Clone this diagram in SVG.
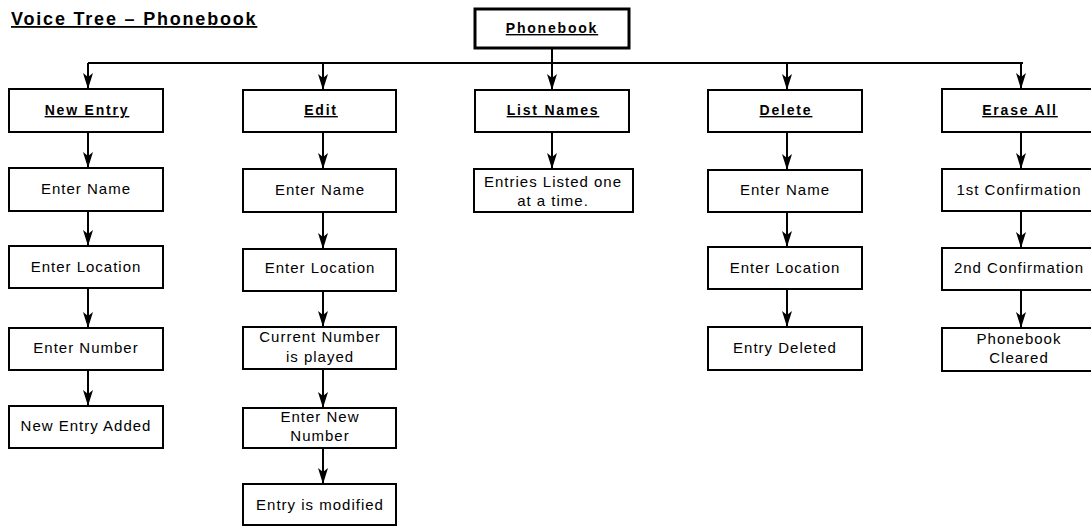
<svg xmlns="http://www.w3.org/2000/svg" width="1091" height="527" viewBox="0 0 1091 527">
<style>
.box{fill:#fff;stroke:#000;stroke-width:2}
.top{fill:#fff;stroke:#000;stroke-width:3}
.t{font-family:"Liberation Sans",Arial,sans-serif;font-size:15px;letter-spacing:1px;text-anchor:middle;fill:#000}
.h{font-family:"Liberation Sans",Arial,sans-serif;font-size:14px;font-weight:bold;letter-spacing:1.8px;text-anchor:middle;fill:#000;text-decoration:underline}
.title{font-family:"Liberation Sans",Arial,sans-serif;font-size:18px;font-weight:bold;letter-spacing:1.8px;fill:#000;text-decoration:underline}
.c{stroke:#000;stroke-width:2;fill:none}
.a{stroke:#000;stroke-width:2;fill:none;marker-end:url(#arr)}
</style>
<defs>
<marker id="arr" markerUnits="userSpaceOnUse" markerWidth="18" markerHeight="12" viewBox="0 -6 18 12" refX="16" refY="0" orient="auto">
<path d="M0,-5 L16,0 L0,5 L4,0 z" fill="#000"/>
</marker>
</defs>
<text class="title" x="11" y="25">Voice Tree – Phonebook</text>

<g id="connectors">
<line class="c" x1="88" y1="63" x2="1023" y2="63"/>
<line class="a" x1="552" y1="48" x2="552" y2="90"/>
<line class="a" x1="88" y1="63" x2="88" y2="89"/>
<line class="a" x1="323" y1="63" x2="323" y2="90"/>
<line class="a" x1="787" y1="63" x2="787" y2="90"/>
<line class="a" x1="1021" y1="63" x2="1021" y2="89"/>
<line class="a" x1="88" y1="132" x2="88" y2="168"/>
<line class="a" x1="88" y1="211" x2="88" y2="246"/>
<line class="a" x1="88" y1="288" x2="88" y2="328"/>
<line class="a" x1="88" y1="370" x2="88" y2="406"/>
<line class="a" x1="323" y1="132" x2="323" y2="169"/>
<line class="a" x1="323" y1="212" x2="323" y2="249"/>
<line class="a" x1="323" y1="291" x2="323" y2="327"/>
<line class="a" x1="323" y1="369" x2="323" y2="408"/>
<line class="a" x1="323" y1="448" x2="323" y2="484"/>
<line class="a" x1="552" y1="132" x2="552" y2="169"/>
<line class="a" x1="787" y1="132" x2="787" y2="170"/>
<line class="a" x1="787" y1="212" x2="787" y2="247"/>
<line class="a" x1="787" y1="289" x2="787" y2="327"/>
<line class="a" x1="1021" y1="132" x2="1021" y2="169"/>
<line class="a" x1="1021" y1="211" x2="1021" y2="248"/>
<line class="a" x1="1021" y1="290" x2="1021" y2="328"/>
</g>

<g id="phonebook"><rect class="top" x="475" y="9" width="154" height="39"/><text class="h" x="552" y="33">Phonebook</text></g>

<g id="new-entry"><rect class="box" x="9" y="89" width="154" height="43"/><text class="h" x="87" y="115">New Entry</text></g>
<g id="edit"><rect class="box" x="243" y="90" width="153" height="42"/><text class="h" x="321" y="115">Edit</text></g>
<g id="list-names"><rect class="box" x="475" y="90" width="154" height="42"/><text class="h" x="553" y="115">List Names</text></g>
<g id="delete"><rect class="box" x="708" y="90" width="154" height="42"/><text class="h" x="786" y="115">Delete</text></g>
<g id="erase-all"><rect class="box" x="942" y="89" width="154" height="43"/><text class="h" x="1020" y="115">Erase All</text></g>

<g id="ne-name"><rect class="box" x="9" y="168" width="154" height="43"/><text class="t" x="86" y="194">Enter Name</text></g>
<g id="ne-location"><rect class="box" x="9" y="246" width="154" height="42"/><text class="t" x="86" y="272">Enter Location</text></g>
<g id="ne-number"><rect class="box" x="9" y="328" width="154" height="42"/><text class="t" x="86" y="353">Enter Number</text></g>
<g id="ne-added"><rect class="box" x="9" y="406" width="154" height="42"/><text class="t" x="86" y="431">New Entry Added</text></g>

<g id="ed-name"><rect class="box" x="243" y="169" width="153" height="43"/><text class="t" x="320" y="195">Enter Name</text></g>
<g id="ed-location"><rect class="box" x="243" y="249" width="153" height="42"/><text class="t" x="320" y="273">Enter Location</text></g>
<g id="ed-current"><rect class="box" x="243" y="327" width="153" height="42"/><text class="t" x="320" y="342">Current Number</text><text class="t" x="320" y="362">is played</text></g>
<g id="ed-new"><rect class="box" x="243" y="408" width="153" height="40"/><text class="t" x="320" y="422">Enter New</text><text class="t" x="320" y="441">Number</text></g>
<g id="ed-modified"><rect class="box" x="243" y="484" width="153" height="41"/><text class="t" x="320" y="510">Entry is modified</text></g>

<g id="ln-listed"><rect class="box" x="474" y="169" width="159" height="43"/><text class="t" x="553" y="187">Entries Listed one</text><text class="t" x="553" y="206">at a time.</text></g>

<g id="de-name"><rect class="box" x="708" y="170" width="154" height="42"/><text class="t" x="785" y="195">Enter Name</text></g>
<g id="de-location"><rect class="box" x="708" y="247" width="154" height="42"/><text class="t" x="785" y="273">Enter Location</text></g>
<g id="de-deleted"><rect class="box" x="708" y="327" width="154" height="43"/><text class="t" x="785" y="353">Entry Deleted</text></g>

<g id="ea-first"><rect class="box" x="942" y="169" width="154" height="42"/><text class="t" x="1019" y="195">1st Confirmation</text></g>
<g id="ea-second"><rect class="box" x="942" y="248" width="154" height="42"/><text class="t" x="1019" y="273">2nd Confirmation</text></g>
<g id="ea-cleared"><rect class="box" x="942" y="328" width="154" height="43"/><text class="t" x="1019" y="344">Phonebook</text><text class="t" x="1019" y="363">Cleared</text></g>
</svg>
